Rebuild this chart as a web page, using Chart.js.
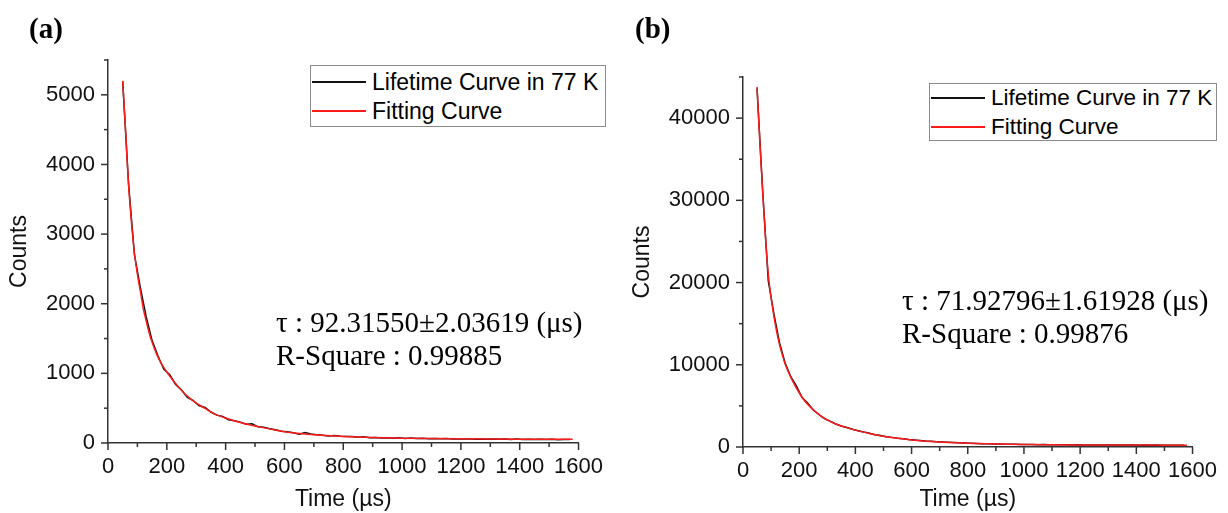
<!DOCTYPE html>
<html>
<head>
<meta charset="utf-8">
<script src="https://cdn.jsdelivr.net/npm/chart.js@4.4.1/dist/chart.umd.min.js"></script>
<style>
  body { margin: 0; background: #fff; width: 1228px; height: 513px; overflow: hidden; position: relative; }
  .box { position: absolute; }
  .panel-label { position: absolute; font-family: "Liberation Serif", serif; font-weight: bold; font-size: 29px; line-height: 30px; color: #000; }
  .legend { position: absolute; box-sizing: border-box; border: 1px solid #8a8a8a; background: #fff; font-family: "Liberation Sans", Arial, sans-serif; font-size: 23px; color: #000; }
  .legend .sw { position: absolute; left: 1px; width: 54px; height: 2px; }
  .legend .txt { position: absolute; left: 61px; line-height: 24px; white-space: nowrap; }
  .note { position: absolute; font-family: "Liberation Serif", serif; font-size: 29px; line-height: 33px; color: #000; white-space: nowrap; }
</style>
</head>
<body>
<div class="box" style="left:0;top:0;"><canvas id="chartA" width="614" height="513"></canvas></div>
<div class="box" style="left:614px;top:0;"><canvas id="chartB" width="614" height="513"></canvas></div>

<div class="panel-label" style="left:29px;top:13px;">(a)</div>
<div class="panel-label" style="left:635px;top:13px;">(b)</div>

<div class="legend" style="left:310px;top:65px;width:296px;height:62px;">
  <div class="sw" style="top:15px;background:#111;"></div><div class="txt" style="top:4px;">Lifetime Curve in 77 K</div>
  <div class="sw" style="top:44px;background:#ff1a1a;"></div><div class="txt" style="top:33px;">Fitting Curve</div>
</div>
<div class="legend" style="left:929px;top:83px;width:288px;height:58px;font-size:22.5px;">
  <div class="sw" style="top:13px;background:#111;"></div><div class="txt" style="top:2px;">Lifetime Curve in 77 K</div>
  <div class="sw" style="top:42px;background:#ff1a1a;"></div><div class="txt" style="top:31px;">Fitting Curve</div>
</div>

<div class="note" style="left:276px;top:306px;">τ : 92.31550±2.03619 (μs)<br>R-Square : 0.99885</div>
<div class="note" style="left:902px;top:284px;">τ : 71.92796±1.61928 (μs)<br>R-Square : 0.99876</div>

<script>
const dataTime = [50,70,90,110,130,150,170,190,210,230,250,270,290,310,330,350,370,390,410,430,
  450,470,490,510,530,550,570,590,610,630,650,670,690,710,730,750,770,790,810,830,
  850,870,890,910,930,950,970,990,1010,1030,1050,1070,1090,1110,1130,1150,1170,1190,1210,1230,
  1250,1270,1290,1310,1330,1350,1370,1390,1410,1430,1450,1470,1490,1510,1530,1550,1570];

const countsA = [5190,3720,2700,2230,1810,1470,1250,1060,980,840,760,655,610,535,510,445,400,380,335,320,
  300,270,275,232,225,205,190,170,160,148,125,150,128,118,112,100,108,96,92,95,
  82,88,76,80,72,76,70,74,66,70,64,68,62,66,60,63,58,62,57,60,
  55,59,54,58,53,57,52,56,50,55,51,54,49,53,47,52,50];

const countsB = [43600,31200,20200,16200,12700,10200,8550,7450,6000,5350,4500,3950,3450,3150,2800,2560,2370,2150,1980,1820,
  1680,1500,1400,1260,1170,1070,990,900,850,790,730,700,640,600,575,540,505,480,455,430,
  410,390,370,360,345,330,325,310,300,305,285,290,275,280,265,270,258,262,250,256,
  245,252,240,248,236,244,232,240,228,236,224,232,220,228,216,224,212];

// fitted curves
const fitTime = [50,55,60,65,70,80,90,100,110,120,130,140,150,165,180,200,220,240,260,280,
  300,330,360,400,450,500,550,600,700,800,900,1000,1100,1200,1300,1400,1500,1580];
const fitA = [5200,4830,4470,4060,3700,3160,2725,2420,2180,1930,1750,1580,1445,1280,1150,1020,905,805,712,638,
  573,497,422,358,293,243,203,162,118,94,78,70,64,60,57,55,54,53];
const fitB = [43800,40300,37000,34000,31000,25500,21000,18200,15900,14000,12450,11200,10100,8850,7800,6600,5600,4850,4250,3700,
  3300,2800,2450,2050,1650,1300,1050,860,600,460,360,300,270,255,245,235,225,215];

const seriesNames = ['Lifetime Curve in 77 K', 'Fitting Curve'];

const SANS = '"Liberation Sans", Arial, sans-serif';
const INK = '#111';

function pts(xs, ys) {
  return xs.map((x, i) => ({ x: x, y: ys[i] }));
}

// outward axis ticks, long on labelled values and short in between
const tickMarks = {
  id: 'tickMarks',
  afterDraw(chart, args, opts) {
    const { ctx, scales: { x, y } } = chart;
    ctx.save();
    ctx.strokeStyle = '#333';
    ctx.lineWidth = 1.5;
    x.ticks.forEach(t => {
      const px = x.getPixelForValue(t.value);
      const len = t.value % opts.xMajor === 0 ? 7 : 4;
      ctx.beginPath();
      ctx.moveTo(px, x.top);
      ctx.lineTo(px, x.top + len);
      ctx.stroke();
    });
    y.ticks.forEach(t => {
      const py = y.getPixelForValue(t.value);
      const len = t.value % opts.yMajor === 0 ? 7 : 4;
      ctx.beginPath();
      ctx.moveTo(y.right, py);
      ctx.lineTo(y.right - len, py);
      ctx.stroke();
    });
    ctx.restore();
  }
};

function makeChart(id, counts, fit, cfg) {
  const el = document.getElementById(id).getContext('2d');
  return new Chart(el, {
    type: 'line',
    data: {
      datasets: [
        {
          label: seriesNames[0],
          data: pts(dataTime, counts),
          borderColor: '#111',
          borderWidth: 1.5,
          pointRadius: 0,
          tension: 0,
          order: 1
        },
        {
          label: seriesNames[1],
          data: pts(fitTime, fit),
          borderColor: '#ff1a1a',
          borderWidth: 1.5,
          pointRadius: 0,
          cubicInterpolationMode: 'monotone',
          order: 0
        }
      ]
    },
    options: {
      responsive: false,
      animation: false,
      layout: {
        padding: { left: 0, right: cfg.right, top: cfg.top, bottom: 0 }
      },
      plugins: {
        legend: { display: false },
        tooltip: { enabled: false },
        tickMarks: { xMajor: 200, yMajor: cfg.yMajor }
      },
      scales: {
        x: {
          type: 'linear',
          min: 0,
          max: 1600,
          afterFit: s => { s.height = cfg.xHeight; },
          border: { display: true, color: '#333', width: 1.5 },
          grid: { display: true, drawOnChartArea: false, drawTicks: false },
          ticks: {
            stepSize: 100,
            autoSkip: false,
            maxRotation: 0,
            padding: 11,
            color: INK,
            font: { family: SANS, size: 22 },
            callback: v => (v % 200 === 0 ? v : '')
          },
          title: {
            display: true,
            text: 'Time (µs)',
            color: INK,
            font: { family: SANS, size: 23 },
            padding: 0
          }
        },
        y: {
          type: 'linear',
          min: 0,
          max: cfg.yMax,
          afterFit: s => { s.width = cfg.yWidth; },
          border: { display: true, color: '#333', width: 1.5 },
          grid: { display: true, drawOnChartArea: false, drawTicks: false },
          ticks: {
            stepSize: cfg.yMajor / 2,
            autoSkip: false,
            padding: 13,
            color: INK,
            font: { family: SANS, size: 22 },
            callback: v => (v % cfg.yMajor === 0 ? v : '')
          },
          title: {
            display: true,
            text: 'Counts',
            color: INK,
            font: { family: SANS, size: 23 },
            padding: cfg.titlePad
          }
        }
      }
    },
    plugins: [tickMarks]
  });
}

makeChart('chartA', countsA, fitA, {
  right: 28, top: 60, xHeight: 70, yWidth: 108, yMax: 5500, yMajor: 1000, titlePad: 6
});
makeChart('chartB', countsB, fitB, {
  right: 25, top: 77, xHeight: 66, yWidth: 129, yMax: 45000, yMajor: 10000, titlePad: 15
});
</script>
</body>
</html>
